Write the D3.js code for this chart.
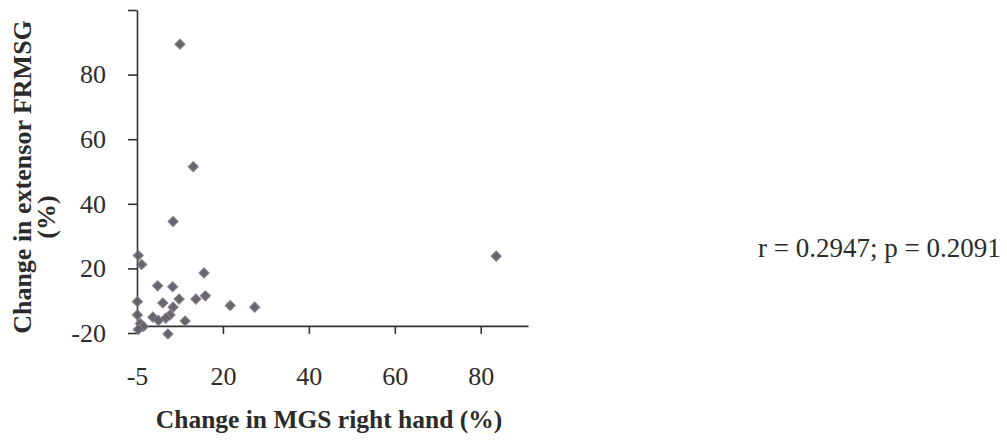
<!DOCTYPE html>
<html>
<head>
<meta charset="utf-8">
<script src="https://cdn.jsdelivr.net/npm/d3@7"></script>
<style>
  html, body { margin: 0; padding: 0; background: #fff; }
  svg { display: block; }
  text { font-family: "Liberation Serif", "Times New Roman", serif; fill: #2b2b2b; }
</style>
</head>
<body>
<svg id="chart" width="1007" height="447"></svg>
<script>
// ---- data ----
const xValues = [10.0, 13.1, 8.4, 83.6, 0.3, 1.1, 15.6, 4.8, 8.3, 15.9, 13.7, 9.8, 6.0, 0.1, 8.4, 21.7, 27.4, 0.1, 7.7, 6.7, 3.7, 5.0, 11.2, 0.8, 1.5, 0.3, 7.2];
const yValues = [89.4, 51.5, 34.5, 23.8, 24.0, 21.2, 18.6, 14.6, 14.3, 11.5, 10.5, 10.5, 9.3, 9.7, 8.0, 8.5, 8.0, 5.6, 5.6, 4.6, 4.9, 3.9, 3.7, 2.9, 2.0, 1.1, -0.3];
const xTickValues = [0, 20, 40, 60, 80];
const xTickLabels = ["-5", "20", "40", "60", "80"];
const yTickValues = [0, 20, 40, 60, 80, 100];
const yTickLabels = ["-20", "20", "40", "60", "80", ""];
const xTitle = "Change in MGS right hand (%)";
const yTitleLines = ["Change in extensor FRMSG", "(%)"];
const annotation = "r = 0.2947; p = 0.2091";

const points = xValues.map((x, i) => ({x, y: yValues[i]}));

const svg = d3.select("#chart");
const x = d3.scaleLinear().domain([0, 91]).range([137, 528]);
const y = d3.scaleLinear().domain([0, 100]).range([333, 10]);
const xAxisAt = 2.2;
const axisColor = "#333";
const fontFam = "Liberation Serif";

// x axis
const gx = svg.append("g")
  .attr("transform", `translate(0,${y(xAxisAt)})`)
  .call(d3.axisBottom(x).tickValues(xTickValues)
    .tickFormat((d, i) => xTickLabels[i]).tickSize(8).tickSizeOuter(0).tickPadding(33));
gx.select(".domain").attr("stroke", axisColor).attr("stroke-width", 1.6);
gx.selectAll(".tick line").attr("stroke", axisColor).attr("stroke-width", 1.6);
gx.selectAll(".tick text").attr("font-size", 26).attr("font-family", fontFam).attr("fill", "#2b2b2b");

// y axis
const gy = svg.append("g")
  .attr("transform", `translate(${x(0)},0)`)
  .call(d3.axisLeft(y).tickValues(yTickValues)
    .tickFormat((d, i) => yTickLabels[i]).tickSize(9).tickSizeOuter(0).tickPadding(22));
gy.select(".domain").attr("stroke", axisColor).attr("stroke-width", 1.6);
gy.selectAll(".tick line").attr("stroke", axisColor).attr("stroke-width", 1.6);
gy.selectAll(".tick text").attr("font-size", 26).attr("font-family", fontFam).attr("fill", "#2b2b2b");

// points (diamonds)
const sym = d3.symbol().type(d3.symbolSquare).size(52);
svg.append("g").selectAll("path").data(points).join("path")
  .attr("d", sym)
  .attr("transform", d => `translate(${x(d.x)},${y(d.y)}) rotate(45)`)
  .attr("fill", "#5e5e6a")
  .attr("stroke", "#8a7a80")
  .attr("stroke-width", 1)
  .attr("opacity", 0.95);

// axis titles
svg.append("text")
  .attr("x", 329).attr("y", 428)
  .attr("text-anchor", "middle")
  .attr("font-size", 25.5).attr("font-weight", "bold")
  .text(xTitle);

svg.append("text")
  .attr("transform", "translate(31,177) rotate(-90)")
  .attr("text-anchor", "middle")
  .attr("font-size", 26).attr("font-weight", "bold")
  .text(yTitleLines[0]);
svg.append("text")
  .attr("transform", "translate(55,217) rotate(-90)")
  .attr("text-anchor", "middle")
  .attr("font-size", 26).attr("font-weight", "bold")
  .text(yTitleLines[1]);

// annotation
svg.append("text")
  .attr("x", 758).attr("y", 257)
  .attr("font-size", 27)
  .text(annotation);
</script>
</body>
</html>
